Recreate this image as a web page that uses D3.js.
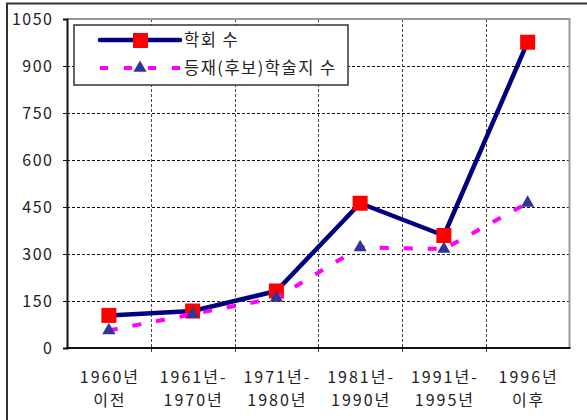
<!DOCTYPE html>
<html>
<head>
<meta charset="utf-8">
<script src="https://cdn.jsdelivr.net/npm/d3@7"></script>
<style>
  html, body { margin: 0; padding: 0; background: #fff; }
  svg { display: block; }
  text { font-family: "Noto Sans CJK KR", "Noto Sans", sans-serif; fill: #222; }
</style>
</head>
<body>
<svg id="chart" width="587" height="420"></svg>
<script>
// Periods (two-line labels)
const periods = [
  ["1960년", "이전"],
  ["1961년-", "1970년"],
  ["1971년-", "1980년"],
  ["1981년-", "1990년"],
  ["1991년-", "1995년"],
  ["1996년", "이후"]
];
// Number of academic societies
const societies = [104, 118, 182, 462, 359, 976];
// Number of registered (candidate) journals
const journals = [56, 108, 160, 321, 316, 463];
const yTicks = [0, 150, 300, 450, 600, 750, 900, 1050];
const seriesNames = ["학회 수", "등재(후보)학술지 수"];

const svg = d3.select("#chart");
const plot = { left: 67, right: 569.5, top: 19, bottom: 348 };

const x = d3.scaleBand()
  .domain(d3.range(periods.length))
  .range([plot.left, plot.right])
  .padding(0);
const y = d3.scaleLinear().domain([0, 1050]).range([plot.bottom, plot.top]);
const cx = i => x(i) + x.bandwidth() / 2;

// Outer frame (left and top edges)
svg.append("line").attr("x1", 7).attr("x2", 7).attr("y1", 3.5).attr("y2", 420)
  .attr("stroke", "#333").attr("stroke-width", 2);
svg.append("line").attr("x1", 6).attr("x2", 587).attr("y1", 3.5).attr("y2", 3.5)
  .attr("stroke", "#333").attr("stroke-width", 2);

// Horizontal gridlines
svg.append("g").selectAll("line")
  .data(yTicks.filter(d => d > 0 && d < 1050))
  .join("line")
  .attr("x1", plot.left).attr("x2", plot.right)
  .attr("y1", d => Math.round(y(d)) + 0.5).attr("y2", d => Math.round(y(d)) + 0.5)
  .attr("stroke", "#111").attr("stroke-width", 1).attr("stroke-dasharray", "3,2");

// Vertical gridlines at category boundaries
svg.append("g").selectAll("line")
  .data(d3.range(1, periods.length))
  .join("line")
  .attr("x1", i => Math.round(x(i)) + 0.5).attr("x2", i => Math.round(x(i)) + 0.5)
  .attr("y1", plot.top).attr("y2", plot.bottom + 4)
  .attr("stroke", "#444").attr("stroke-width", 1).attr("stroke-dasharray", "3,2");

// Plot area border: grey top/right, black left/bottom
svg.append("path")
  .attr("d", `M${plot.left},${plot.top}H${plot.right}V${plot.bottom}`)
  .attr("fill", "none").attr("stroke", "#999").attr("stroke-width", 2);

// Y axis
const yAxis = svg.append("g")
  .attr("transform", `translate(${plot.left},0)`)
  .call(d3.axisLeft(y).tickValues(yTicks).tickSize(4).tickPadding(9.5).tickFormat(d3.format("d")));
yAxis.select(".domain").attr("stroke", "#111").attr("stroke-width", 2);
yAxis.selectAll(".tick line").attr("stroke", "#111");
yAxis.selectAll(".tick text")
  .attr("font-size", "16px").attr("fill", "#222").attr("letter-spacing", "1.5px")
  .attr("font-family", "'Noto Sans CJK KR', sans-serif");

// X axis line
svg.append("line")
  .attr("x1", plot.left - 1).attr("x2", plot.right + 1)
  .attr("y1", plot.bottom).attr("y2", plot.bottom)
  .attr("stroke", "#111").attr("stroke-width", 2);

// X labels (two lines)
const ls = 2;
const xl = svg.append("g").selectAll("text").data(periods).join("text")
  .attr("text-anchor", "middle")
  .attr("font-size", "16px")
  .attr("letter-spacing", ls + "px");
xl.append("tspan").attr("x", (d, i) => cx(i) + ls / 2).attr("y", 383).text(d => d[0]);
xl.append("tspan").attr("x", (d, i) => cx(i) + ls / 2).attr("y", 406).text(d => d[1]);

// Series 1: societies
const line = d3.line().x((d, i) => cx(i)).y(d => y(d));
svg.append("path").datum(societies).attr("d", line)
  .attr("fill", "none").attr("stroke", "#000080").attr("stroke-width", 4.5)
  .attr("stroke-linejoin", "round");
svg.append("g").selectAll("rect").data(societies).join("rect")
  .attr("x", (d, i) => cx(i) - 7.5).attr("y", d => y(d) - 7.5)
  .attr("width", 15).attr("height", 15).attr("fill", "#ff0000");

// Series 2: journals
svg.append("path").datum(journals).attr("d", line)
  .attr("fill", "none").attr("stroke", "#ff00ff").attr("stroke-width", 4)
  .attr("stroke-dasharray", "9,15");
const tri = d3.symbol().type(d3.symbolTriangle).size(75);
svg.append("g").selectAll("path").data(journals).join("path")
  .attr("d", tri)
  .attr("transform", (d, i) => `translate(${cx(i)},${y(d)})`)
  .attr("fill", "#333399");

// Legend
const lg = svg.append("g");
lg.append("rect").attr("x", 74).attr("y", 25).attr("width", 274).attr("height", 60)
  .attr("fill", "#fff").attr("stroke", "#333").attr("stroke-width", 1.5);
lg.append("line").attr("x1", 100).attr("x2", 180).attr("y1", 40).attr("y2", 40)
  .attr("stroke", "#000080").attr("stroke-width", 4.5).attr("stroke-linecap", "round");
lg.append("rect").attr("x", 133).attr("y", 33).attr("width", 15).attr("height", 15)
  .attr("fill", "#ff0000");
lg.append("line").attr("x1", 100).attr("x2", 181).attr("y1", 68).attr("y2", 68)
  .attr("stroke", "#ff00ff").attr("stroke-width", 4).attr("stroke-dasharray", "8,16");
lg.append("path").attr("d", tri).attr("transform", "translate(140,68)").attr("fill", "#333399");
lg.append("text").attr("x", 184).attr("y", 46).attr("font-size", "16.5px")
  .attr("letter-spacing", "1.5px").text(seriesNames[0]);
lg.append("text").attr("x", 184).attr("y", 74).attr("font-size", "16.5px")
  .attr("letter-spacing", "1.5px").text(seriesNames[1]);
</script>
</body>
</html>
